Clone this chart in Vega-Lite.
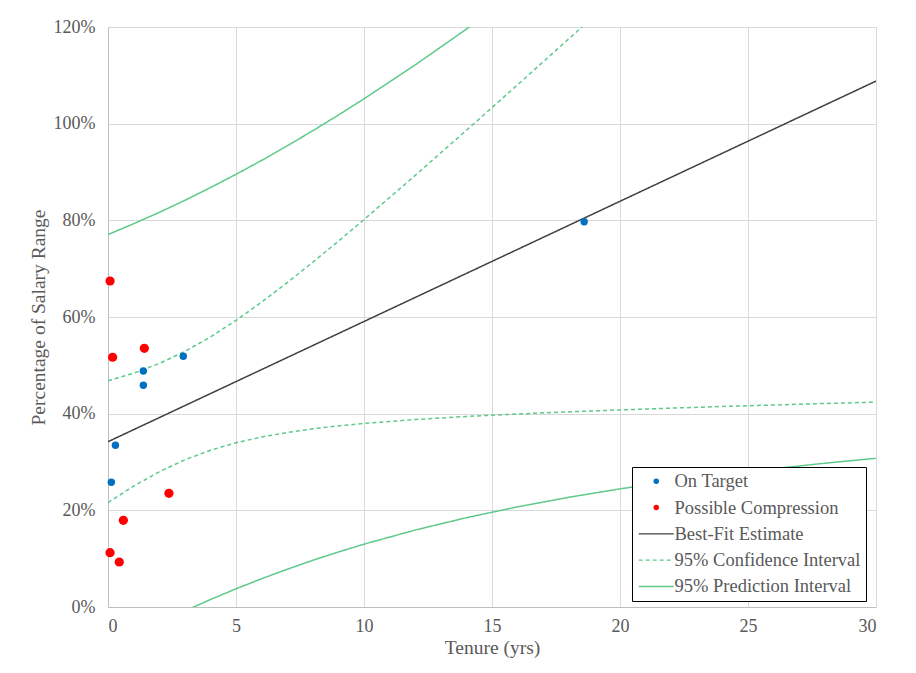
{
  "$schema": "https://vega.github.io/schema/vega-lite/v6.json",
  "autosize": {"type": "none"},
  "width": 768,
  "height": 580,
  "padding": {"left": 108, "top": 27, "right": 40, "bottom": 66},
  "background": "white",
  "config": {
    "view": {"stroke": null},
    "font": "Liberation Serif",
    "axis": {
      "labelFont": "Liberation Serif",
      "labelFontSize": 18,
      "labelColor": "#595959",
      "titleFont": "Liberation Serif",
      "titleFontSize": 19.5,
      "titleFontWeight": "normal",
      "titleColor": "#595959",
      "gridColor": "#D9D9D9",
      "gridWidth": 1,
      "domainColor": "#BFBFBF",
      "ticks": false
    }
  },
  "datasets": {
    "pts": [
      {"tenure": 0.13, "pct": 0.258, "series": "On Target"},
      {"tenure": 0.29, "pct": 0.3346, "series": "On Target"},
      {"tenure": 1.38, "pct": 0.4883, "series": "On Target"},
      {"tenure": 1.38, "pct": 0.4587, "series": "On Target"},
      {"tenure": 2.94, "pct": 0.5187, "series": "On Target"},
      {"tenure": 18.6, "pct": 0.797, "series": "On Target"},
      {"tenure": 0.08, "pct": 0.6745, "series": "Possible Compression"},
      {"tenure": 0.18, "pct": 0.5167, "series": "Possible Compression"},
      {"tenure": 1.42, "pct": 0.5353, "series": "Possible Compression"},
      {"tenure": 2.38, "pct": 0.2353, "series": "Possible Compression"},
      {"tenure": 0.6, "pct": 0.1794, "series": "Possible Compression"},
      {"tenure": 0.08, "pct": 0.1124, "series": "Possible Compression"},
      {"tenure": 0.44, "pct": 0.0931, "series": "Possible Compression"}
    ],
    "lines": [
      {"tenure": 0, "pct": 0.342, "series": "Best-Fit Estimate", "bound": "fit"},
      {"tenure": 30, "pct": 1.0881, "series": "Best-Fit Estimate", "bound": "fit"},

      {"tenure": 0, "pct": 0.468, "series": "95% Confidence Interval", "bound": "ci_up"},
      {"tenure": 1, "pct": 0.4837, "series": "95% Confidence Interval", "bound": "ci_up"},
      {"tenure": 2, "pct": 0.5037, "series": "95% Confidence Interval", "bound": "ci_up"},
      {"tenure": 3, "pct": 0.5287, "series": "95% Confidence Interval", "bound": "ci_up"},
      {"tenure": 4, "pct": 0.5587, "series": "95% Confidence Interval", "bound": "ci_up"},
      {"tenure": 5, "pct": 0.593, "series": "95% Confidence Interval", "bound": "ci_up"},
      {"tenure": 6, "pct": 0.6307, "series": "95% Confidence Interval", "bound": "ci_up"},
      {"tenure": 7, "pct": 0.6711, "series": "95% Confidence Interval", "bound": "ci_up"},
      {"tenure": 8, "pct": 0.7133, "series": "95% Confidence Interval", "bound": "ci_up"},
      {"tenure": 9, "pct": 0.7569, "series": "95% Confidence Interval", "bound": "ci_up"},
      {"tenure": 10, "pct": 0.8016, "series": "95% Confidence Interval", "bound": "ci_up"},
      {"tenure": 12, "pct": 0.8929, "series": "95% Confidence Interval", "bound": "ci_up"},
      {"tenure": 14, "pct": 0.9862, "series": "95% Confidence Interval", "bound": "ci_up"},
      {"tenure": 16, "pct": 1.0805, "series": "95% Confidence Interval", "bound": "ci_up"},
      {"tenure": 18, "pct": 1.1755, "series": "95% Confidence Interval", "bound": "ci_up"},
      {"tenure": 20, "pct": 1.271, "series": "95% Confidence Interval", "bound": "ci_up"},
      {"tenure": 22, "pct": 1.3668, "series": "95% Confidence Interval", "bound": "ci_up"},

      {"tenure": 0, "pct": 0.216, "series": "95% Confidence Interval", "bound": "ci_lo"},
      {"tenure": 1, "pct": 0.2501, "series": "95% Confidence Interval", "bound": "ci_lo"},
      {"tenure": 2, "pct": 0.2797, "series": "95% Confidence Interval", "bound": "ci_lo"},
      {"tenure": 3, "pct": 0.3045, "series": "95% Confidence Interval", "bound": "ci_lo"},
      {"tenure": 4, "pct": 0.3243, "series": "95% Confidence Interval", "bound": "ci_lo"},
      {"tenure": 5, "pct": 0.3398, "series": "95% Confidence Interval", "bound": "ci_lo"},
      {"tenure": 6, "pct": 0.3517, "series": "95% Confidence Interval", "bound": "ci_lo"},
      {"tenure": 7, "pct": 0.3611, "series": "95% Confidence Interval", "bound": "ci_lo"},
      {"tenure": 8, "pct": 0.3687, "series": "95% Confidence Interval", "bound": "ci_lo"},
      {"tenure": 9, "pct": 0.3747, "series": "95% Confidence Interval", "bound": "ci_lo"},
      {"tenure": 10, "pct": 0.3798, "series": "95% Confidence Interval", "bound": "ci_lo"},
      {"tenure": 12, "pct": 0.3879, "series": "95% Confidence Interval", "bound": "ci_lo"},
      {"tenure": 14, "pct": 0.3942, "series": "95% Confidence Interval", "bound": "ci_lo"},
      {"tenure": 16, "pct": 0.3993, "series": "95% Confidence Interval", "bound": "ci_lo"},
      {"tenure": 18, "pct": 0.4039, "series": "95% Confidence Interval", "bound": "ci_lo"},
      {"tenure": 20, "pct": 0.4078, "series": "95% Confidence Interval", "bound": "ci_lo"},
      {"tenure": 22, "pct": 0.4114, "series": "95% Confidence Interval", "bound": "ci_lo"},
      {"tenure": 24, "pct": 0.4149, "series": "95% Confidence Interval", "bound": "ci_lo"},
      {"tenure": 26, "pct": 0.4179, "series": "95% Confidence Interval", "bound": "ci_lo"},
      {"tenure": 28, "pct": 0.4211, "series": "95% Confidence Interval", "bound": "ci_lo"},
      {"tenure": 30, "pct": 0.4238, "series": "95% Confidence Interval", "bound": "ci_lo"},

      {"tenure": 0, "pct": 0.7706, "series": "95% Prediction Interval", "bound": "pi_up"},
      {"tenure": 1, "pct": 0.7929, "series": "95% Prediction Interval", "bound": "pi_up"},
      {"tenure": 2, "pct": 0.8164, "series": "95% Prediction Interval", "bound": "pi_up"},
      {"tenure": 3, "pct": 0.8413, "series": "95% Prediction Interval", "bound": "pi_up"},
      {"tenure": 4, "pct": 0.8676, "series": "95% Prediction Interval", "bound": "pi_up"},
      {"tenure": 5, "pct": 0.8952, "series": "95% Prediction Interval", "bound": "pi_up"},
      {"tenure": 6, "pct": 0.9239, "series": "95% Prediction Interval", "bound": "pi_up"},
      {"tenure": 7, "pct": 0.9541, "series": "95% Prediction Interval", "bound": "pi_up"},
      {"tenure": 8, "pct": 0.9854, "series": "95% Prediction Interval", "bound": "pi_up"},
      {"tenure": 9, "pct": 1.0178, "series": "95% Prediction Interval", "bound": "pi_up"},
      {"tenure": 10, "pct": 1.0514, "series": "95% Prediction Interval", "bound": "pi_up"},
      {"tenure": 12, "pct": 1.1216, "series": "95% Prediction Interval", "bound": "pi_up"},
      {"tenure": 14, "pct": 1.1956, "series": "95% Prediction Interval", "bound": "pi_up"},
      {"tenure": 16, "pct": 1.2726, "series": "95% Prediction Interval", "bound": "pi_up"},
      {"tenure": 18, "pct": 1.3524, "series": "95% Prediction Interval", "bound": "pi_up"},

      {"tenure": 0, "pct": -0.0866, "series": "95% Prediction Interval", "bound": "pi_lo"},
      {"tenure": 1, "pct": -0.0591, "series": "95% Prediction Interval", "bound": "pi_lo"},
      {"tenure": 2, "pct": -0.033, "series": "95% Prediction Interval", "bound": "pi_lo"},
      {"tenure": 3, "pct": -0.0081, "series": "95% Prediction Interval", "bound": "pi_lo"},
      {"tenure": 4, "pct": 0.0154, "series": "95% Prediction Interval", "bound": "pi_lo"},
      {"tenure": 5, "pct": 0.0376, "series": "95% Prediction Interval", "bound": "pi_lo"},
      {"tenure": 6, "pct": 0.0585, "series": "95% Prediction Interval", "bound": "pi_lo"},
      {"tenure": 7, "pct": 0.0781, "series": "95% Prediction Interval", "bound": "pi_lo"},
      {"tenure": 8, "pct": 0.0966, "series": "95% Prediction Interval", "bound": "pi_lo"},
      {"tenure": 9, "pct": 0.1138, "series": "95% Prediction Interval", "bound": "pi_lo"},
      {"tenure": 10, "pct": 0.13, "series": "95% Prediction Interval", "bound": "pi_lo"},
      {"tenure": 12, "pct": 0.1592, "series": "95% Prediction Interval", "bound": "pi_lo"},
      {"tenure": 14, "pct": 0.1848, "series": "95% Prediction Interval", "bound": "pi_lo"},
      {"tenure": 16, "pct": 0.2072, "series": "95% Prediction Interval", "bound": "pi_lo"},
      {"tenure": 18, "pct": 0.227, "series": "95% Prediction Interval", "bound": "pi_lo"},
      {"tenure": 20, "pct": 0.2444, "series": "95% Prediction Interval", "bound": "pi_lo"},
      {"tenure": 22, "pct": 0.2598, "series": "95% Prediction Interval", "bound": "pi_lo"},
      {"tenure": 24, "pct": 0.2738, "series": "95% Prediction Interval", "bound": "pi_lo"},
      {"tenure": 26, "pct": 0.2861, "series": "95% Prediction Interval", "bound": "pi_lo"},
      {"tenure": 28, "pct": 0.2975, "series": "95% Prediction Interval", "bound": "pi_lo"},
      {"tenure": 30, "pct": 0.3077, "series": "95% Prediction Interval", "bound": "pi_lo"}
    ]
  },
  "encoding": {
    "x": {
      "field": "tenure", "type": "quantitative", "title": "Tenure (yrs)",
      "scale": {"domain": [0, 30], "nice": false, "zero": false},
      "axis": {"values": [0, 5, 10, 15, 20, 25, 30], "labelPadding": 10, "titlePadding": 3, "grid": true}
    },
    "y": {
      "field": "pct", "type": "quantitative", "title": "Percentage of Salary Range",
      "scale": {"domain": [0, 1.2], "nice": false, "zero": false},
      "axis": {"values": [0, 0.2, 0.4, 0.6, 0.8, 1.0, 1.2], "format": ".0%", "labelPadding": 13, "titlePadding": 5, "grid": true}
    }
  },
  "layer": [
    {
      "data": {"name": "lines"},
      "mark": {"type": "line", "clip": true, "strokeWidth": 1.5, "interpolate": "linear"},
      "encoding": {
        "detail": {"field": "bound"},
        "color": {
          "field": "series", "type": "nominal",
          "scale": {
            "domain": ["On Target", "Possible Compression", "Best-Fit Estimate", "95% Confidence Interval", "95% Prediction Interval"],
            "range": ["#0070C0", "#FF0000", "#404040", "#5DC98A", "#5DC98A"]
          },
          "legend": {
            "orient": "none", "legendX": 524, "legendY": 440, "title": null,
            "symbolSize": 1225, "symbolType": "stroke", "symbolStrokeWidth": 1.4,
            "symbolOffset": 10,
            "labelFont": "Liberation Serif", "labelFontSize": 18.5, "labelColor": "#595959",
            "labelOffset": 9, "padding": 5, "rowPadding": 7.3,
            "strokeColor": "#000000", "fillColor": "#FFFFFF",
            "labelLimit": 300,
            "encode": {
              "symbols": {
                "update": {
                  "shape": {"signal": "(datum.value == 'On Target' || datum.value == 'Possible Compression') ? 'circle' : 'stroke'"},
                  "size": {"signal": "(datum.value == 'On Target' || datum.value == 'Possible Compression') ? 30 : 1225"},
                  "strokeDash": {"signal": "datum.value == '95% Confidence Interval' ? [4, 3] : [1, 0]"},
                  "fill": {"scale": "color", "field": "value"},
                  "stroke": {"scale": "color", "field": "value"},
                  "strokeWidth": {"signal": "(datum.value == 'On Target' || datum.value == 'Possible Compression') ? 0 : 1.4"},
                  "opacity": {"value": 1}
                }
              }
            }
          }
        },
        "strokeDash": {
          "field": "series", "type": "nominal", "legend": null,
          "scale": {
            "domain": ["Best-Fit Estimate", "95% Confidence Interval", "95% Prediction Interval"],
            "range": [[1, 0], [4, 3], [1, 0]]
          }
        },
        "strokeWidth": {
          "field": "series", "type": "nominal", "legend": null,
          "scale": {
            "domain": ["Best-Fit Estimate", "95% Confidence Interval", "95% Prediction Interval"],
            "range": [1.2, 1.5, 1.5]
          }
        }
      }
    },
    {
      "data": {"name": "pts"},
      "mark": {"type": "point", "filled": true, "shape": "circle", "opacity": 1},
      "encoding": {
        "color": {"field": "series", "type": "nominal"},
        "size": {
          "field": "series", "type": "nominal", "legend": null,
          "scale": {"domain": ["On Target", "Possible Compression"], "range": [55, 85]}
        }
      }
    }
  ]
}
